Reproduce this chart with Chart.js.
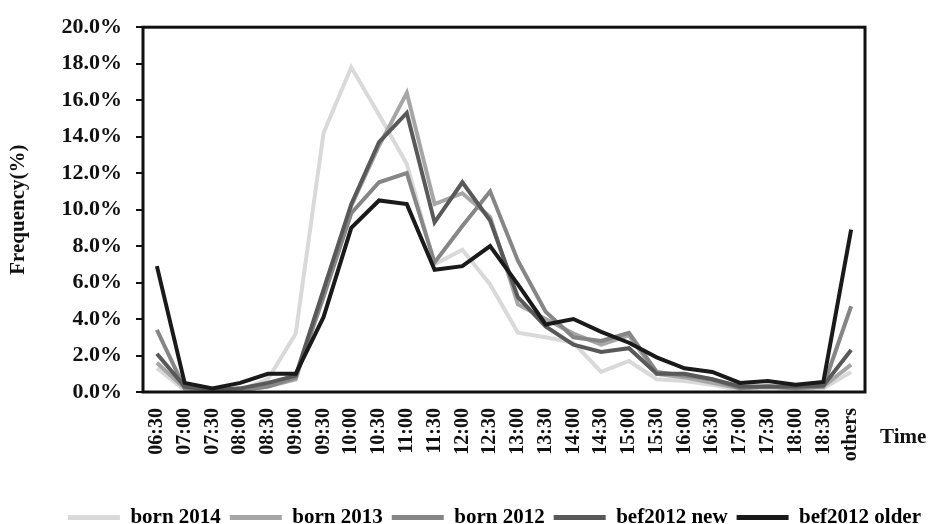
<!DOCTYPE html>
<html>
<head>
<meta charset="utf-8">
<script src="https://cdn.jsdelivr.net/npm/chart.js@4.4.1/dist/chart.umd.min.js"></script>
<style>
  html, body { margin: 0; padding: 0; background: #fff; }
  #wrap { width: 930px; height: 524px; }
</style>
</head>
<body>
<div id="wrap"><canvas id="myChart" width="930" height="524"></canvas></div>
<script>
// time slots on the x axis
const times = ['06:30', '07:00', '07:30', '08:00', '08:30', '09:00', '09:30', '10:00', '10:30',
    '11:00', '11:30', '12:00', '12:30', '13:00', '13:30', '14:00', '14:30', '15:00', '15:30',
    '16:00', '16:30', '17:00', '17:30', '18:00', '18:30', 'others']

// frequency (%) per group
const born2014 = [1.3, 0.1, 0.05, 0.1, 0.7, 3.2, 14.2, 17.8, 15.2, 12.5, 7.0, 7.8, 5.9, 3.25, 3.0, 2.7,
    1.1, 1.7, 0.7, 0.6, 0.4, 0.1, 0.2, 0.1, 0.2, 1.1]
const born2013 = [1.6, 0.2, 0.1, 0.1, 0.3, 0.7, 5.5, 10.2, 13.5, 16.4, 10.3, 10.9, 9.6, 4.8, 4.0, 3.2,
    2.6, 3.1, 1.0, 0.8, 0.5, 0.2, 0.3, 0.2, 0.3, 1.5]
const born2012 = [3.4, 0.2, 0.1, 0.1, 0.3, 0.8, 5.2, 9.8, 11.5, 12.0, 7.1, 9.1, 11.0, 7.2, 4.4, 3.0,
    2.8, 3.25, 1.1, 0.9, 0.7, 0.2, 0.3, 0.2, 0.3, 4.7]
const bef2012New = [2.1, 0.3, 0.1, 0.2, 0.5, 0.9, 5.6, 10.3, 13.7, 15.3, 9.3, 11.5, 9.4, 5.2, 3.6, 2.6,
    2.2, 2.4, 1.0, 1.0, 0.7, 0.3, 0.3, 0.3, 0.35, 2.3]
const bef2012Older = [6.9, 0.5, 0.2, 0.5, 1.0, 1.0, 4.1, 9.0, 10.5, 10.3, 6.7, 6.9, 8.0, 5.9, 3.7, 4.0,
    3.3, 2.7, 1.9, 1.3, 1.1, 0.5, 0.6, 0.4, 0.55, 8.9]

const seriesNames = ['born 2014', 'born 2013', 'born 2012', 'bef2012 new', 'bef2012 older']
const seriesData = [born2014, born2013, born2012, bef2012New, bef2012Older]
const seriesColors = ['#d9d9d9', '#a6a6a6', '#868686', '#595959', '#1a1a1a']

const serif = 'Liberation Serif, Times New Roman, serif'

// thick frame round the plot and the "Time" label at the right
const frameAndTime = {
    id: 'frameAndTime',
    afterDatasetsDraw(chart) {
        const { ctx, chartArea } = chart
        ctx.save()
        ctx.strokeStyle = '#111'
        ctx.lineWidth = 3
        ctx.strokeRect(chartArea.left, chartArea.top, chartArea.right - chartArea.left, chartArea.bottom - chartArea.top)
        ctx.fillStyle = '#111'
        ctx.font = 'bold 21px ' + serif
        ctx.textAlign = 'left'
        ctx.textBaseline = 'middle'
        ctx.fillText('Time', chartArea.right + 15, chartArea.bottom + 46)
        ctx.restore()
    }
}

const ctx = document.getElementById('myChart')
new Chart(ctx, {
    type: 'line',
    data: {
        labels: times,
        datasets: seriesData.map((data, i) => ({
            label: seriesNames[i],
            data: data,
            borderColor: seriesColors[i],
            backgroundColor: seriesColors[i],
            borderWidth: 4,
            pointRadius: 0,
            tension: 0,
            order: 4 - i
        }))
    },
    options: {
        responsive: false,
        animation: false,
        // negative bottom padding pushes the legend down to the canvas edge
        layout: { padding: { top: 22, right: 0, left: 0, bottom: -14 } },
        plugins: {
            tooltip: { enabled: false },
            legend: {
                position: 'bottom',
                align: 'end',
                labels: {
                    boxWidth: 52,
                    boxHeight: 5,
                    padding: 9,
                    color: '#111',
                    font: { family: serif, size: 21, weight: 'bold' },
                    generateLabels: (chart) => chart.data.datasets.map((ds, i) => ({
                        text: ds.label,
                        fillStyle: ds.borderColor,
                        strokeStyle: ds.borderColor,
                        lineWidth: 0,
                        datasetIndex: i
                    }))
                }
            }
        },
        scales: {
            x: {
                offset: true,
                grid: { display: false },
                border: { display: false },
                ticks: {
                    autoSkip: false,
                    minRotation: 90,
                    maxRotation: 90,
                    padding: 8,
                    color: '#111',
                    font: { family: serif, size: 20, weight: 'bold' }
                },
                afterFit: (scale) => { scale.height = 106 }
            },
            y: {
                min: 0,
                max: 20,
                ticks: {
                    stepSize: 2,
                    padding: 14,
                    color: '#111',
                    font: { family: serif, size: 22, weight: 'bold' },
                    callback: (v) => v.toFixed(1) + '%'
                },
                grid: { drawOnChartArea: false, drawTicks: true, tickLength: 7, color: '#111', lineWidth: 2 },
                border: { display: false },
                title: {
                    display: true,
                    text: 'Frequency(%)',
                    color: '#111',
                    padding: { top: 6, bottom: 0 },
                    font: { family: serif, size: 21, weight: 'bold' }
                },
                afterFit: (scale) => { scale.width = 143 }
            },
            // empty right-hand axis: only keeps room for the "Time" label
            yRight: {
                display: true,
                position: 'right',
                min: 0,
                max: 20,
                ticks: { display: false },
                grid: { display: false },
                border: { display: false },
                afterFit: (scale) => { scale.width = 65 }
            }
        }
    },
    plugins: [frameAndTime]
})
</script>
</body>
</html>
